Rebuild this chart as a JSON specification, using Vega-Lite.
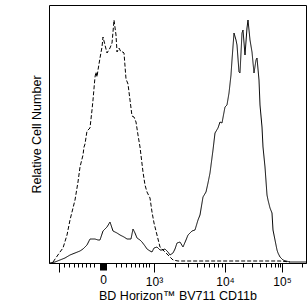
{
  "$schema": "https://vega.github.io/schema/vega-lite/v6.json",
  "width": 257,
  "height": 258,
  "autosize": {"type": "none"},
  "padding": {"left": 49, "top": 5, "right": 2, "bottom": 43},
  "config": {
    "view": {"stroke": "black", "strokeWidth": 1},
    "font": "Liberation Sans",
    "axis": {"labelFont": "Liberation Sans", "titleFont": "Liberation Sans", "labelColor": "black", "titleColor": "black", "titleFontWeight": "normal", "titleFontSize": 12.5, "domainColor": "black", "tickColor": "black", "grid": false}
  },
  "data": {
    "values": [
      {"series": "control", "x": 4, "count": 1}, {"series": "control", "x": 11, "count": 11}, {"series": "control", "x": 14, "count": 15}, {"series": "control", "x": 18, "count": 28}, {"series": "control", "x": 21, "count": 43}, {"series": "control", "x": 24, "count": 55}, {"series": "control", "x": 26, "count": 63}, {"series": "control", "x": 29, "count": 81}, {"series": "control", "x": 31, "count": 96}, {"series": "control", "x": 34, "count": 108}, {"series": "control", "x": 35, "count": 116}, {"series": "control", "x": 36, "count": 119}, {"series": "control", "x": 38, "count": 132}, {"series": "control", "x": 41, "count": 135}, {"series": "control", "x": 43, "count": 153}, {"series": "control", "x": 44, "count": 163}, {"series": "control", "x": 46, "count": 186}, {"series": "control", "x": 47, "count": 191}, {"series": "control", "x": 48, "count": 186}, {"series": "control", "x": 49, "count": 193}, {"series": "control", "x": 51, "count": 205}, {"series": "control", "x": 53, "count": 216}, {"series": "control", "x": 54, "count": 226}, {"series": "control", "x": 56, "count": 218}, {"series": "control", "x": 58, "count": 210}, {"series": "control", "x": 61, "count": 215}, {"series": "control", "x": 63, "count": 220}, {"series": "control", "x": 64, "count": 231}, {"series": "control", "x": 65, "count": 243}, {"series": "control", "x": 67, "count": 228}, {"series": "control", "x": 68, "count": 211}, {"series": "control", "x": 70, "count": 215}, {"series": "control", "x": 72, "count": 211}, {"series": "control", "x": 74, "count": 211}, {"series": "control", "x": 75, "count": 210}, {"series": "control", "x": 77, "count": 184}, {"series": "control", "x": 79, "count": 179}, {"series": "control", "x": 81, "count": 163}, {"series": "control", "x": 83, "count": 147}, {"series": "control", "x": 85, "count": 146}, {"series": "control", "x": 87, "count": 141}, {"series": "control", "x": 89, "count": 128}, {"series": "control", "x": 91, "count": 116}, {"series": "control", "x": 94, "count": 91}, {"series": "control", "x": 96, "count": 78}, {"series": "control", "x": 98, "count": 71}, {"series": "control", "x": 101, "count": 65}, {"series": "control", "x": 103, "count": 51}, {"series": "control", "x": 105, "count": 40}, {"series": "control", "x": 108, "count": 28}, {"series": "control", "x": 111, "count": 16}, {"series": "control", "x": 115, "count": 12}, {"series": "control", "x": 118, "count": 9}, {"series": "control", "x": 121, "count": 6}, {"series": "control", "x": 124, "count": 3}, {"series": "control", "x": 129, "count": 2}, {"series": "control", "x": 136, "count": 2}, {"series": "control", "x": 151, "count": 2}, {"series": "control", "x": 171, "count": 2}, {"series": "control", "x": 191, "count": 2}, {"series": "control", "x": 211, "count": 2}, {"series": "control", "x": 231, "count": 2}, {"series": "control", "x": 241, "count": 1},
      {"series": "stained", "x": 1, "count": 0}, {"series": "stained", "x": 6, "count": 1}, {"series": "stained", "x": 11, "count": 3}, {"series": "stained", "x": 16, "count": 5}, {"series": "stained", "x": 21, "count": 8}, {"series": "stained", "x": 26, "count": 10}, {"series": "stained", "x": 31, "count": 12}, {"series": "stained", "x": 34, "count": 14}, {"series": "stained", "x": 38, "count": 18}, {"series": "stained", "x": 41, "count": 24}, {"series": "stained", "x": 46, "count": 24}, {"series": "stained", "x": 49, "count": 23}, {"series": "stained", "x": 51, "count": 23}, {"series": "stained", "x": 54, "count": 32}, {"series": "stained", "x": 58, "count": 36}, {"series": "stained", "x": 61, "count": 41}, {"series": "stained", "x": 64, "count": 32}, {"series": "stained", "x": 68, "count": 30}, {"series": "stained", "x": 71, "count": 28}, {"series": "stained", "x": 75, "count": 26}, {"series": "stained", "x": 78, "count": 24}, {"series": "stained", "x": 82, "count": 24}, {"series": "stained", "x": 84, "count": 34}, {"series": "stained", "x": 86, "count": 30}, {"series": "stained", "x": 88, "count": 25}, {"series": "stained", "x": 91, "count": 23}, {"series": "stained", "x": 93, "count": 21}, {"series": "stained", "x": 96, "count": 17}, {"series": "stained", "x": 98, "count": 14}, {"series": "stained", "x": 101, "count": 12}, {"series": "stained", "x": 103, "count": 11}, {"series": "stained", "x": 105, "count": 15}, {"series": "stained", "x": 108, "count": 16}, {"series": "stained", "x": 111, "count": 13}, {"series": "stained", "x": 113, "count": 13}, {"series": "stained", "x": 116, "count": 14}, {"series": "stained", "x": 119, "count": 11}, {"series": "stained", "x": 121, "count": 8}, {"series": "stained", "x": 124, "count": 10}, {"series": "stained", "x": 126, "count": 14}, {"series": "stained", "x": 128, "count": 20}, {"series": "stained", "x": 131, "count": 21}, {"series": "stained", "x": 134, "count": 16}, {"series": "stained", "x": 137, "count": 23}, {"series": "stained", "x": 139, "count": 28}, {"series": "stained", "x": 143, "count": 32}, {"series": "stained", "x": 146, "count": 33}, {"series": "stained", "x": 149, "count": 43}, {"series": "stained", "x": 151, "count": 48}, {"series": "stained", "x": 154, "count": 66}, {"series": "stained", "x": 157, "count": 71}, {"series": "stained", "x": 159, "count": 80}, {"series": "stained", "x": 161, "count": 90}, {"series": "stained", "x": 164, "count": 113}, {"series": "stained", "x": 166, "count": 130}, {"series": "stained", "x": 169, "count": 135}, {"series": "stained", "x": 171, "count": 141}, {"series": "stained", "x": 173, "count": 140}, {"series": "stained", "x": 176, "count": 156}, {"series": "stained", "x": 178, "count": 158}, {"series": "stained", "x": 180, "count": 170}, {"series": "stained", "x": 182, "count": 188}, {"series": "stained", "x": 183, "count": 203}, {"series": "stained", "x": 185, "count": 230}, {"series": "stained", "x": 187, "count": 223}, {"series": "stained", "x": 188, "count": 218}, {"series": "stained", "x": 190, "count": 191}, {"series": "stained", "x": 191, "count": 190}, {"series": "stained", "x": 193, "count": 230}, {"series": "stained", "x": 194, "count": 233}, {"series": "stained", "x": 196, "count": 208}, {"series": "stained", "x": 198, "count": 235}, {"series": "stained", "x": 199, "count": 243}, {"series": "stained", "x": 201, "count": 223}, {"series": "stained", "x": 203, "count": 211}, {"series": "stained", "x": 205, "count": 190}, {"series": "stained", "x": 207, "count": 203}, {"series": "stained", "x": 208, "count": 205}, {"series": "stained", "x": 210, "count": 183}, {"series": "stained", "x": 211, "count": 158}, {"series": "stained", "x": 213, "count": 136}, {"series": "stained", "x": 214, "count": 116}, {"series": "stained", "x": 216, "count": 96}, {"series": "stained", "x": 218, "count": 68}, {"series": "stained", "x": 219, "count": 63}, {"series": "stained", "x": 221, "count": 55}, {"series": "stained", "x": 223, "count": 50}, {"series": "stained", "x": 224, "count": 33}, {"series": "stained", "x": 226, "count": 23}, {"series": "stained", "x": 228, "count": 13}, {"series": "stained", "x": 229, "count": 10}, {"series": "stained", "x": 231, "count": 6}, {"series": "stained", "x": 234, "count": 3}, {"series": "stained", "x": 237, "count": 2}, {"series": "stained", "x": 241, "count": 1}, {"series": "stained", "x": 251, "count": 1}, {"series": "stained", "x": 257, "count": 1}
    ]
  },
  "mark": {"type": "line", "color": "black", "strokeWidth": 1},
  "encoding": {
    "x": {
      "field": "x", "type": "quantitative",
      "scale": {"domain": [0, 257], "nice": false, "zero": false},
      "axis": {
        "title": "BD Horizon™ BV711 CD11b",
        "titlePadding": 2,
        "values": [10,15,20,25,29,33,37,41,45,51,52,53,54,55,56,57,67,72,77,82,86,90,94,97,100,105,126,139,148,154.5,160,165,169,173,176,194,203,211,217,222,226,229,231,233,253],
        "labelExpr": "datum.value==54?'0':datum.value==105?'10³':datum.value==176?'10⁴':datum.value==233?'10⁵':''",
        "labelOverlap": false,
        "labelFlush": false,
        "labelBound": false,
        "labelFontSize": 12,
        "labelPadding": 4,
        "tickSize": {"condition": [{"test": "datum.value==10||datum.value==105||datum.value==176||datum.value==233", "value": 9}, {"test": "datum.value>=51&&datum.value<=57", "value": 7}], "value": 4}
      }
    },
    "y": {
      "field": "count", "type": "quantitative",
      "scale": {"domain": [0, 258], "nice": false, "zero": false},
      "axis": {"title": "Relative Cell Number", "ticks": false, "labels": false, "domain": false, "titlePadding": 6}
    },
    "strokeDash": {
      "field": "series", "type": "nominal",
      "scale": {"domain": ["stained", "control"], "range": [[1, 0], [4, 2]]},
      "legend": null
    }
  }
}
